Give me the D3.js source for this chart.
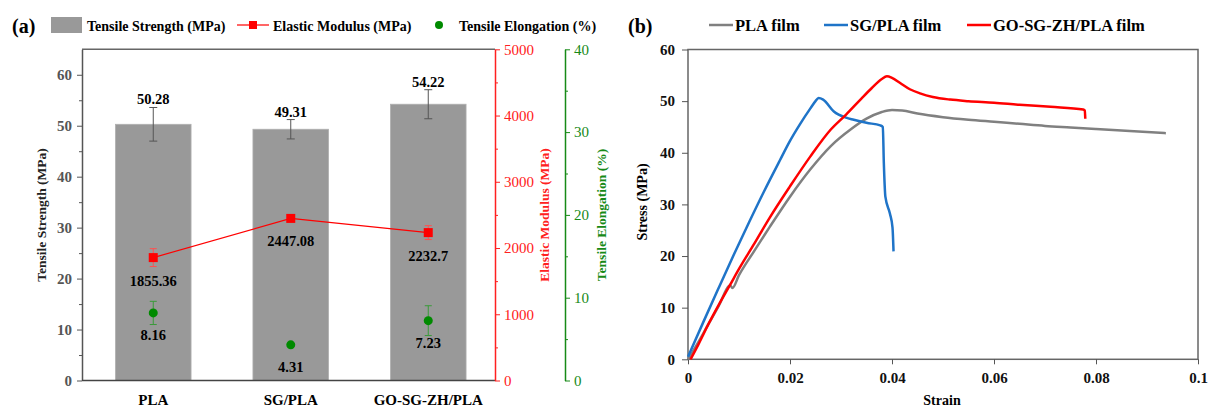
<!DOCTYPE html>
<html>
<head>
<meta charset="utf-8">
<script src="https://cdn.jsdelivr.net/npm/d3@7"></script>
<style>
  body { margin: 0; background: #fff; }
  text { font-family: "Liberation Serif", "Times New Roman", serif; }
</style>
</head>
<body>
<script>
// ---- data (a): mechanical properties ----
var categories = ["PLA", "SG/PLA", "GO-SG-ZH/PLA"];
var strength = [50.28, 49.31, 54.22];
var strengthErr = [3.3, 1.9, 2.85];
var modulus = [1855.36, 2447.08, 2232.7];
var modulusErr = [135, 25, 105];
var elongation = [8.16, 4.31, 7.23];
var elongationErr = [1.4, 0.2, 1.8];
var strengthTicks = [0, 10, 20, 30, 40, 50, 60];
var modulusTicks = [0, 1000, 2000, 3000, 4000, 5000];
var elongationTicks = [0, 10, 20, 30, 40];

// ---- data (b): stress-strain curves [strain, stress] ----
var plaFilm = [[0, 0], [0.002, 3.3], [0.004, 6.8], [0.006, 10.3], [0.0083, 14.3], [0.0087, 13.8],
  [0.010, 16.3], [0.013, 21.0], [0.016, 25.6], [0.020, 31.5], [0.024, 36.8], [0.028, 41.3],
  [0.032, 44.6], [0.035, 46.6], [0.038, 47.9], [0.040, 48.3], [0.042, 48.2], [0.045, 47.6],
  [0.050, 46.9], [0.055, 46.4], [0.060, 46.0], [0.065, 45.6], [0.070, 45.2], [0.075, 44.9],
  [0.080, 44.6], [0.085, 44.3], [0.090, 44.0], [0.0937, 43.8]];
var sgFilm = [[0, 0.5], [0.003, 7.2], [0.006, 13.8], [0.009, 20.3], [0.012, 26.6], [0.015, 32.7],
  [0.018, 38.5], [0.020, 42.3], [0.022, 45.6], [0.024, 48.6], [0.025, 50.0], [0.0256, 50.6],
  [0.0265, 50.3], [0.0286, 48.0], [0.031, 46.8], [0.0325, 46.4], [0.035, 45.8], [0.0377, 45.3],
  [0.0382, 45.0], [0.0384, 38.0], [0.0387, 31.5], [0.0396, 28.2], [0.0401, 25.5], [0.0403, 20.9]];
var goFilm = [[0.0005, 0], [0.002, 2.8], [0.004, 6.8], [0.006, 10.5], [0.0083, 14.5], [0.010, 17.5],
  [0.013, 22.4], [0.016, 27.4], [0.020, 33.5], [0.024, 39.3], [0.028, 44.5], [0.031, 47.4],
  [0.034, 50.5], [0.036, 52.5], [0.038, 54.3], [0.039, 54.8], [0.040, 54.5], [0.0416, 53.5],
  [0.0435, 52.3], [0.0455, 51.5], [0.048, 50.8], [0.0514, 50.3], [0.055, 50.0], [0.060, 49.7],
  [0.065, 49.3], [0.0711, 48.9], [0.0775, 48.4], [0.0778, 48.2], [0.0779, 46.6]];
var curveNames = ["PLA film", "SG/PLA film", "GO-SG-ZH/PLA film"];
var curveColors = ["#808080", "#1f74c8", "#ff0000"];
var strainTicks = [0, 0.02, 0.04, 0.06, 0.08, 0.1];
var stressTicks = [0, 10, 20, 30, 40, 50, 60];

var red = "#ff2020", green = "#178a17";
var serif = "'Liberation Serif', 'Times New Roman', serif";

var svg = d3.select("body").append("svg")
    .attr("width", 1208)
    .attr("height", 408);

// ================= panel (a) =================
var a = { left: 82, right: 495, top: 49.3, bottom: 380.5 };

var x = d3.scaleBand()
    .domain(categories)
    .range([84.5, 497])
    .paddingInner(0.45)
    .paddingOuter(0.225);
var yS = d3.scaleLinear().domain([0, 65]).range([a.bottom, a.top]);
var yM = d3.scaleLinear().domain([0, 5000]).range([a.bottom, a.top]);
var yE = d3.scaleLinear().domain([0, 40]).range([a.bottom, a.top]);
var cx = c => x(c) + x.bandwidth() / 2;

// bars
svg.append("g").selectAll("rect")
    .data(strength)
    .enter().append("rect")
    .attr("x", (d, i) => x(categories[i]))
    .attr("y", d => yS(d))
    .attr("width", x.bandwidth())
    .attr("height", d => yS(0) - yS(d))
    .attr("fill", "#999999")
    .attr("stroke", "#b0b0b0")
    .attr("stroke-width", 0.8);

// helper for error bars
function errBars(g, vals, errs, scale, color, cap) {
    vals.forEach(function (v, i) {
        var px = cx(categories[i]);
        var t = scale(v + errs[i]), b = scale(v - errs[i]);
        g.append("line").attr("x1", px).attr("x2", px).attr("y1", t).attr("y2", b)
            .attr("stroke", color).attr("stroke-width", 1);
        [t, b].forEach(function (yy) {
            g.append("line").attr("x1", px - cap).attr("x2", px + cap).attr("y1", yy).attr("y2", yy)
                .attr("stroke", color).attr("stroke-width", 1);
        });
    });
}

var gErr = svg.append("g");
errBars(gErr, strength, strengthErr, yS, "#555", 4);
errBars(gErr, modulus, modulusErr, yM, "#ff5050", 3.5);
errBars(gErr, elongation, elongationErr, yE, "#3a9a3a", 3.5);

// strength value labels
svg.append("g").selectAll("text")
    .data(strength)
    .enter().append("text")
    .attr("x", (d, i) => cx(categories[i]))
    .attr("y", (d, i) => yS(d + strengthErr[i]) - 3)
    .attr("text-anchor", "middle")
    .attr("font-size", "14.5px")
    .attr("font-weight", "bold")
    .text(d => d.toFixed(2));

// modulus line + squares
var modLine = d3.line()
    .x((d, i) => cx(categories[i]))
    .y(d => yM(d));
svg.append("path")
    .datum(modulus)
    .attr("d", modLine)
    .attr("fill", "none")
    .attr("stroke", "#ff0000")
    .attr("stroke-width", 1.2);
svg.append("g").selectAll("rect")
    .data(modulus)
    .enter().append("rect")
    .attr("x", (d, i) => cx(categories[i]) - 4.5)
    .attr("y", d => yM(d) - 4.5)
    .attr("width", 9)
    .attr("height", 9)
    .attr("fill", "#ff0000");
svg.append("g").selectAll("text")
    .data(modulus)
    .enter().append("text")
    .attr("x", (d, i) => cx(categories[i]))
    .attr("y", d => yM(d) + 28)
    .attr("text-anchor", "middle")
    .attr("font-size", "14.5px")
    .attr("font-weight", "bold")
    .text(d => String(d));

// elongation dots
svg.append("g").selectAll("circle")
    .data(elongation)
    .enter().append("circle")
    .attr("cx", (d, i) => cx(categories[i]))
    .attr("cy", d => yE(d))
    .attr("r", 4.5)
    .attr("fill", "#008a00");
svg.append("g").selectAll("text")
    .data(elongation)
    .enter().append("text")
    .attr("x", (d, i) => cx(categories[i]))
    .attr("y", d => yE(d) + 27)
    .attr("text-anchor", "middle")
    .attr("font-size", "14.5px")
    .attr("font-weight", "bold")
    .text(d => d.toFixed(2));

// left axis (major + minor)
svg.append("g")
    .attr("transform", "translate(" + a.left + ",0)")
    .call(d3.axisLeft(yS).tickValues(d3.range(5, 65, 10)).tickSize(3).tickFormat(""))
    .call(g => g.select(".domain").remove())
    .selectAll("line").attr("stroke", "#555");
svg.append("g")
    .attr("transform", "translate(" + a.left + ",0)")
    .call(d3.axisLeft(yS).tickValues(strengthTicks).tickSize(5).tickSizeOuter(0).tickPadding(5))
    .call(g => g.select(".domain").attr("stroke", "#555").attr("stroke-width", 1.5))
    .call(g => g.selectAll(".tick line").attr("stroke", "#555"))
    .call(g => g.selectAll("text").attr("font-size", "15px").attr("fill", "#555")
        .attr("font-weight", "bold").style("font-family", serif));

// top + bottom frame lines
svg.append("line").attr("x1", a.left).attr("x2", a.right).attr("y1", a.top).attr("y2", a.top)
    .attr("stroke", "#666").attr("stroke-width", 1.5);
svg.append("line").attr("x1", a.left).attr("x2", a.right).attr("y1", a.bottom).attr("y2", a.bottom)
    .attr("stroke", "#444").attr("stroke-width", 1.5);

// red modulus axis
svg.append("g")
    .attr("transform", "translate(" + a.right + ",0)")
    .call(d3.axisRight(yM).tickValues(d3.range(500, 5000, 1000)).tickSize(3).tickFormat(""))
    .call(g => g.select(".domain").remove())
    .selectAll("line").attr("stroke", red);
svg.append("g")
    .attr("transform", "translate(" + a.right + ",0)")
    .call(d3.axisRight(yM).tickValues(modulusTicks).tickSize(5).tickSizeOuter(0).tickPadding(4)
        .tickFormat(d3.format("d")))
    .call(g => g.select(".domain").attr("stroke", red).attr("stroke-width", 1.5))
    .call(g => g.selectAll(".tick line").attr("stroke", red))
    .call(g => g.selectAll("text").attr("font-size", "15px").attr("fill", red)
        .style("font-family", serif));

// green elongation axis
var greenX = 565;
svg.append("g")
    .attr("transform", "translate(" + greenX + ",0)")
    .call(d3.axisRight(yE).tickValues(d3.range(5, 40, 10)).tickSize(3).tickFormat(""))
    .call(g => g.select(".domain").remove())
    .selectAll("line").attr("stroke", green);
svg.append("g")
    .attr("transform", "translate(" + greenX + ",0)")
    .call(d3.axisRight(yE).tickValues(elongationTicks).tickSize(5).tickSizeOuter(0).tickPadding(4))
    .call(g => g.select(".domain").attr("stroke", green).attr("stroke-width", 1.5))
    .call(g => g.selectAll(".tick line").attr("stroke", green))
    .call(g => g.selectAll("text").attr("font-size", "15px").attr("fill", green)
        .style("font-family", serif));

// category labels
svg.append("g").selectAll("text")
    .data(categories)
    .enter().append("text")
    .attr("x", d => cx(d))
    .attr("y", 405)
    .attr("text-anchor", "middle")
    .attr("font-size", "15px")
    .attr("font-weight", "bold")
    .text(d => d);

// axis titles
function vTitle(tx, ty, label, color) {
    svg.append("text")
        .attr("transform", "translate(" + tx + "," + ty + ") rotate(-90)")
        .attr("text-anchor", "middle")
        .attr("font-size", "13.5px")
        .attr("font-weight", "bold")
        .attr("fill", color)
        .text(label);
}
vTitle(46, 215, "Tensile Strength (MPa)", "#222");
vTitle(549, 215, "Elastic Modulus (MPa)", red);
vTitle(606, 215, "Tensile Elongation (%)", green);

// legend (a)
svg.append("text").attr("x", 12).attr("y", 33).attr("font-size", "20px").attr("font-weight", "bold").text("(a)");
svg.append("rect").attr("x", 51).attr("y", 17).attr("width", 31).attr("height", 16).attr("fill", "#999");
svg.append("text").attr("x", 87).attr("y", 31).attr("font-size", "14px").attr("font-weight", "bold")
    .text("Tensile Strength (MPa)");
svg.append("line").attr("x1", 237).attr("x2", 269).attr("y1", 25).attr("y2", 25)
    .attr("stroke", "#ff0000").attr("stroke-width", 1.2);
svg.append("rect").attr("x", 249).attr("y", 21).attr("width", 8).attr("height", 8).attr("fill", "#ff0000");
svg.append("text").attr("x", 273).attr("y", 31).attr("font-size", "14px").attr("font-weight", "bold")
    .text("Elastic Modulus (MPa)");
svg.append("circle").attr("cx", 439).attr("cy", 25).attr("r", 4).attr("fill", "#008a00");
svg.append("text").attr("x", 459).attr("y", 31).attr("font-size", "14px").attr("font-weight", "bold")
    .text("Tensile Elongation (%)");

// ================= panel (b) =================
var b = { left: 688, right: 1198, top: 49.5, bottom: 359.3 };
var xs = d3.scaleLinear().domain([0, 0.1]).range([b.left, b.right]);
var ys = d3.scaleLinear().domain([0, 60]).range([b.bottom, b.top]);

svg.append("rect")
    .attr("x", b.left).attr("y", b.top)
    .attr("width", b.right - b.left).attr("height", b.bottom - b.top)
    .attr("fill", "none").attr("stroke", "#666").attr("stroke-width", 1.5);

svg.append("g")
    .attr("transform", "translate(0," + b.bottom + ")")
    .call(d3.axisBottom(xs).tickValues(strainTicks).tickSize(5).tickSizeOuter(0).tickPadding(8)
        .tickFormat(d => d === 0 ? "0" : String(+d.toFixed(2))))
    .call(g => g.select(".domain").remove())
    .call(g => g.selectAll(".tick line").attr("stroke", "#555"))
    .call(g => g.selectAll("text").attr("font-size", "15px").attr("font-weight", "bold")
        .attr("fill", "#111").style("font-family", serif));
svg.append("g")
    .attr("transform", "translate(" + b.left + ",0)")
    .call(d3.axisLeft(ys).tickValues(stressTicks).tickSize(6).tickSizeOuter(0).tickPadding(7))
    .call(g => g.select(".domain").remove())
    .call(g => g.selectAll(".tick line").attr("stroke", "#555"))
    .call(g => g.selectAll("text").attr("font-size", "15px").attr("font-weight", "bold")
        .attr("fill", "#111").style("font-family", serif));

var line = d3.line()
    .x(d => xs(d[0]))
    .y(d => ys(d[1]))
    .curve(d3.curveMonotoneX);
[plaFilm, sgFilm, goFilm].forEach(function (s, i) {
    svg.append("path")
        .datum(s)
        .attr("d", line)
        .attr("fill", "none")
        .attr("stroke", curveColors[i])
        .attr("stroke-width", 2.5)
        .attr("stroke-linejoin", "round");
});

svg.append("text")
    .attr("transform", "translate(647,202) rotate(-90)")
    .attr("text-anchor", "middle")
    .attr("font-size", "14px")
    .attr("font-weight", "bold")
    .text("Stress (MPa)");
svg.append("text")
    .attr("x", 942).attr("y", 405)
    .attr("text-anchor", "middle")
    .attr("font-size", "14px")
    .attr("font-weight", "bold")
    .text("Strain");

// legend (b)
svg.append("text").attr("x", 628).attr("y", 33).attr("font-size", "20px").attr("font-weight", "bold").text("(b)");
var legX = [709, 824, 967];
curveNames.forEach(function (n, i) {
    svg.append("line").attr("x1", legX[i]).attr("x2", legX[i] + 24).attr("y1", 25).attr("y2", 25)
        .attr("stroke", curveColors[i]).attr("stroke-width", 2.5);
    svg.append("text").attr("x", legX[i] + 26).attr("y", 31).attr("font-size", "16.5px")
        .attr("font-weight", "bold").text(n);
});
</script>
</body>
</html>
